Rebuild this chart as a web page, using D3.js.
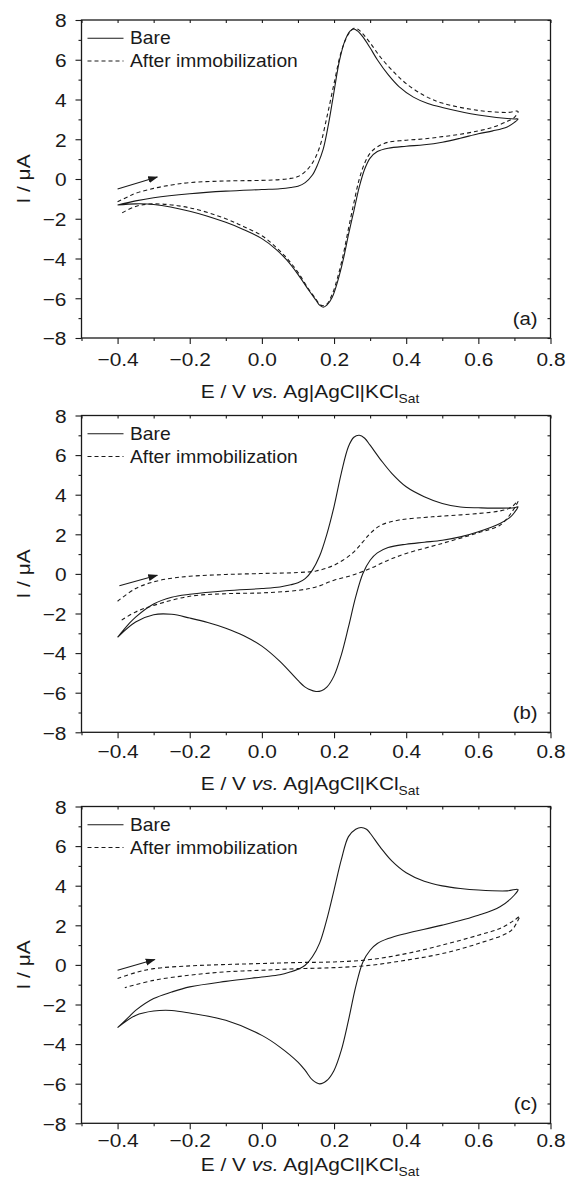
<!DOCTYPE html>
<html>
<head>
<meta charset="utf-8">
<script src="https://cdn.jsdelivr.net/npm/d3@7"></script>
<style>
  body { margin: 0; background: #fff; }
  svg { display: block; }
  text { font-family: "Liberation Sans", Arial, Helvetica, sans-serif; fill: #1a1a1a; }
</style>
</head>
<body>
<svg id="svg" width="569" height="1186"></svg>
<script>
// ---- data: [E (V), I (uA)], forward sweep then reverse sweep ----
const bareA = [
  [-0.40,-1.31],[-0.35,-1.10],[-0.30,-0.94],[-0.20,-0.74],[-0.10,-0.61],[0.00,-0.53],[0.05,-0.49],[0.08,-0.43],
  [0.10,-0.36],[0.12,-0.18],[0.14,0.20],[0.155,0.75],[0.17,1.50],[0.185,2.80],[0.20,4.40],[0.215,5.95],
  [0.23,6.95],[0.245,7.45],[0.255,7.55],[0.265,7.45],[0.28,7.15],[0.30,6.60],[0.32,6.00],[0.35,5.25],
  [0.38,4.65],[0.42,4.12],[0.46,3.80],[0.50,3.60],[0.60,3.22],[0.70,3.02],[0.71,3.02],
  [0.70,2.85],[0.68,2.62],[0.64,2.42],[0.60,2.28],[0.55,2.05],[0.50,1.85],[0.45,1.72],[0.40,1.65],
  [0.35,1.55],[0.32,1.38],[0.30,1.05],[0.285,0.50],[0.27,-0.40],[0.255,-1.60],[0.24,-2.80],[0.225,-4.10],
  [0.21,-5.15],[0.195,-5.95],[0.18,-6.35],[0.17,-6.45],[0.16,-6.35],[0.15,-6.10],[0.13,-5.60],[0.10,-4.80],
  [0.07,-4.10],[0.04,-3.55],[0.00,-3.00],[-0.05,-2.55],[-0.10,-2.18],[-0.20,-1.62],[-0.30,-1.28],
  [-0.35,-1.25],[-0.40,-1.31]
];
const immA = [
  [-0.40,-1.15],[-0.37,-0.88],[-0.35,-0.72],[-0.30,-0.47],[-0.25,-0.30],[-0.20,-0.18],[-0.10,-0.10],
  [0.00,-0.07],[0.05,-0.03],[0.08,0.03],[0.10,0.12],[0.12,0.37],[0.14,0.80],[0.16,1.60],[0.18,3.10],
  [0.20,4.80],[0.22,6.40],[0.24,7.30],[0.255,7.58],[0.265,7.55],[0.28,7.30],[0.30,6.85],[0.33,6.10],
  [0.37,5.30],[0.40,4.80],[0.45,4.20],[0.50,3.82],[0.60,3.45],[0.68,3.35],[0.71,3.40],
  [0.70,3.10],[0.68,2.90],[0.64,2.60],[0.60,2.42],[0.55,2.25],[0.50,2.13],[0.45,2.02],[0.40,1.95],
  [0.35,1.85],[0.32,1.62],[0.30,1.30],[0.285,0.80],[0.27,0.00],[0.255,-1.20],[0.24,-2.50],[0.225,-3.85],
  [0.21,-4.95],[0.195,-5.80],[0.18,-6.30],[0.17,-6.38],[0.16,-6.30],[0.15,-6.05],[0.13,-5.55],[0.10,-4.70],
  [0.07,-4.00],[0.04,-3.45],[0.00,-2.85],[-0.05,-2.40],[-0.10,-2.00],[-0.20,-1.45],[-0.30,-1.25],
  [-0.35,-1.38],[-0.39,-1.73]
];
const bareB = [
  [-0.40,-3.20],[-0.37,-2.55],[-0.35,-2.18],[-0.30,-1.52],[-0.25,-1.18],[-0.20,-1.03],[-0.10,-0.85],
  [0.00,-0.74],[0.05,-0.66],[0.08,-0.55],[0.10,-0.45],[0.12,-0.24],[0.14,0.19],[0.16,0.90],[0.18,2.00],
  [0.20,3.40],[0.22,5.08],[0.24,6.43],[0.255,6.90],[0.27,7.00],[0.285,6.85],[0.30,6.50],[0.33,5.75],
  [0.36,5.08],[0.40,4.40],[0.45,3.90],[0.50,3.56],[0.55,3.38],[0.60,3.34],[0.70,3.34],[0.71,3.39],
  [0.70,3.10],[0.69,2.89],[0.66,2.55],[0.60,2.13],[0.55,1.87],[0.50,1.70],[0.45,1.60],[0.40,1.50],
  [0.35,1.33],[0.32,1.06],[0.30,0.69],[0.28,0.02],[0.26,-1.16],[0.24,-2.68],[0.22,-4.10],[0.20,-5.15],
  [0.18,-5.72],[0.165,-5.90],[0.15,-5.94],[0.13,-5.82],[0.12,-5.72],[0.10,-5.38],[0.05,-4.42],[0.00,-3.65],
  [-0.05,-3.12],[-0.10,-2.74],[-0.15,-2.45],[-0.20,-2.23],[-0.25,-2.04],[-0.30,-2.06],[-0.35,-2.43],[-0.40,-3.20]
];
const immB = [
  [-0.40,-1.38],[-0.35,-0.74],[-0.30,-0.40],[-0.25,-0.22],[-0.20,-0.12],[-0.10,-0.03],[0.00,0.02],
  [0.10,0.07],[0.15,0.15],[0.20,0.44],[0.25,1.03],[0.28,1.62],[0.30,2.04],[0.33,2.46],[0.38,2.72],
  [0.45,2.85],[0.50,2.92],[0.60,3.05],[0.66,3.18],[0.69,3.35],[0.71,3.68],
  [0.69,3.05],[0.66,2.46],[0.60,2.08],[0.50,1.54],[0.40,1.03],[0.35,0.69],[0.30,0.27],[0.25,-0.07],
  [0.20,-0.32],[0.15,-0.66],[0.10,-0.83],[0.00,-0.96],[-0.10,-1.00],[-0.20,-1.13],[-0.30,-1.59],
  [-0.35,-1.92],[-0.39,-2.35]
];
const bareC = [
  [-0.40,-3.17],[-0.37,-2.65],[-0.35,-2.30],[-0.30,-1.70],[-0.25,-1.37],[-0.20,-1.11],[-0.10,-0.83],
  [0.00,-0.61],[0.05,-0.50],[0.08,-0.35],[0.10,-0.22],[0.12,-0.02],[0.14,0.41],[0.16,1.10],[0.18,2.30],
  [0.20,3.78],[0.22,5.30],[0.24,6.48],[0.26,6.85],[0.275,6.94],[0.29,6.85],[0.30,6.65],[0.33,5.90],
  [0.36,5.25],[0.40,4.65],[0.45,4.22],[0.50,3.99],[0.55,3.86],[0.60,3.78],[0.68,3.74],[0.71,3.81],
  [0.70,3.53],[0.66,2.94],[0.60,2.51],[0.50,2.01],[0.40,1.59],[0.35,1.33],[0.32,1.08],[0.30,0.74],
  [0.28,0.15],[0.26,-1.11],[0.24,-2.80],[0.22,-4.32],[0.20,-5.33],[0.18,-5.84],[0.16,-6.01],[0.14,-5.81],
  [0.12,-5.33],[0.10,-4.91],[0.05,-4.15],[0.00,-3.56],[-0.10,-2.80],[-0.20,-2.43],[-0.25,-2.30],
  [-0.30,-2.33],[-0.35,-2.55],[-0.40,-3.17]
];
const immC = [
  [-0.40,-0.69],[-0.35,-0.39],[-0.30,-0.19],[-0.20,-0.05],[-0.10,0.02],[0.00,0.07],[0.10,0.12],
  [0.20,0.15],[0.30,0.27],[0.40,0.57],[0.50,1.00],[0.60,1.50],[0.66,1.84],[0.70,2.26],[0.715,2.46],
  [0.71,2.26],[0.69,1.72],[0.60,1.08],[0.50,0.57],[0.40,0.24],[0.30,-0.02],[0.20,-0.14],[0.10,-0.19],
  [0.00,-0.27],[-0.10,-0.35],[-0.20,-0.52],[-0.30,-0.78],[-0.38,-1.15]
];
// scan direction arrows: [start, end]
const arrowA = [[-0.40,-0.50],[-0.29,0.10]];
const arrowB = [[-0.395,-0.60],[-0.29,-0.07]];
const arrowC = [[-0.40,-0.27],[-0.297,0.27]];

const xMajor = [-0.4,-0.2,0.0,0.2,0.4,0.6,0.8];
const xMinor = [-0.5,-0.3,-0.1,0.1,0.3,0.5,0.7];
const yMajor = [-8,-6,-4,-2,0,2,4,6,8];
const yMinor = [-7,-5,-3,-1,1,3,5,7];
const seriesNames = ["Bare", "After immobilization"];
const panelLabels = ["(a)", "(b)", "(c)"];

const svg = d3.select("#svg");
const SX = 1.1; // the figure's lettering is slightly wide

const panels = [
  { top: 20,    bottom: 338,    tickDy: 28,   titleDy: 60, bare: bareA, imm: immA, arrow: arrowA },
  { top: 415.5, bottom: 732.3,  tickDy: 25.5, titleDy: 58, bare: bareB, imm: immB, arrow: arrowB },
  { top: 806.5, bottom: 1123.3, tickDy: 23.5, titleDy: 48, bare: bareC, imm: immC, arrow: arrowC }
];
const left = 81.5, right = 550.5;

svg.append("defs").append("marker")
  .attr("id", "head")
  .attr("viewBox", "0 0 10 10")
  .attr("refX", 9).attr("refY", 5)
  .attr("markerWidth", 10).attr("markerHeight", 10)
  .attr("markerUnits", "userSpaceOnUse")
  .attr("orient", "auto")
  .append("path")
  .attr("d", "M0,1.5 L10,5 L0,8.5 Z")
  .attr("fill", "#1a1a1a");

function styleAxis(g) {
  g.select(".domain").remove();
  g.selectAll("line").attr("stroke", "#1a1a1a").attr("stroke-width", 1.1);
}

panels.forEach((p, i) => {
  const x = d3.scaleLinear().domain([-0.5, 0.8]).range([left, right]);
  const y = d3.scaleLinear().domain([-8, 8]).range([p.bottom, p.top]);
  const g = svg.append("g");

  // outer ticks on left & bottom
  g.append("g").attr("transform", `translate(${left},0)`)
    .call(d3.axisLeft(y).tickValues(yMinor).tickSize(3).tickFormat(""))
    .call(styleAxis);
  g.append("g").attr("transform", `translate(${left},0)`)
    .call(d3.axisLeft(y).tickValues(yMajor).tickSize(6).tickFormat(d3.format("d")))
    .call(styleAxis)
    .call(a => a.selectAll("text")
      .attr("x", -15 / SX).attr("dy", "0.36em")
      .attr("transform", `scale(${SX},1)`)
      .style("font-size", "19px"));
  g.append("g").attr("transform", `translate(0,${p.bottom})`)
    .call(d3.axisBottom(x).tickValues(xMinor).tickSize(3).tickFormat(""))
    .call(styleAxis);
  g.append("g").attr("transform", `translate(0,${p.bottom})`)
    .call(d3.axisBottom(x).tickValues(xMajor).tickSize(6).tickFormat(d3.format(".1f")))
    .call(styleAxis)
    .call(a => a.selectAll("text")
      .attr("y", p.tickDy).attr("dy", null)
      .attr("transform", `scale(${SX},1)`)
      .style("font-size", "19px"));

  // mirrored inner ticks on top & right
  g.append("g").attr("transform", `translate(0,${p.top})`)
    .call(d3.axisTop(x).tickValues(d3.merge([xMajor, xMinor])).tickSize(-3).tickFormat(""))
    .call(styleAxis);
  g.append("g").attr("transform", `translate(${right},0)`)
    .call(d3.axisRight(y).tickValues(d3.merge([yMajor, yMinor])).tickSize(-3).tickFormat(""))
    .call(styleAxis);

  g.append("rect")
    .attr("x", left).attr("y", p.top)
    .attr("width", right - left).attr("height", p.bottom - p.top)
    .attr("fill", "none").attr("stroke", "#1a1a1a").attr("stroke-width", 1.3);

  const line = d3.line().x(d => x(d[0])).y(d => y(d[1])).curve(d3.curveCatmullRom.alpha(0.5));

  g.append("path").datum(p.bare).attr("d", line)
    .attr("fill", "none").attr("stroke", "#1a1a1a").attr("stroke-width", 1.1);
  g.append("path").datum(p.imm).attr("d", line)
    .attr("fill", "none").attr("stroke", "#1a1a1a").attr("stroke-width", 1.1)
    .attr("stroke-dasharray", "4,3");

  // arrow
  g.append("line")
    .attr("x1", x(p.arrow[0][0])).attr("y1", y(p.arrow[0][1]))
    .attr("x2", x(p.arrow[1][0])).attr("y2", y(p.arrow[1][1]))
    .attr("stroke", "#1a1a1a").attr("stroke-width", 1.1)
    .attr("marker-end", "url(#head)");

  // legend
  seriesNames.forEach((name, k) => {
    const ly = p.top + 18.3 + k * 22.7;
    g.append("line")
      .attr("x1", left + 6).attr("x2", left + 42)
      .attr("y1", ly).attr("y2", ly)
      .attr("stroke", "#1a1a1a").attr("stroke-width", 1.1)
      .attr("stroke-dasharray", k === 0 ? null : "4,3");
    g.append("text")
      .attr("transform", `translate(${left + 48.5},${ly + 6}) scale(${SX},1)`)
      .style("font-size", "17.5px")
      .text(name);
  });

  // panel label
  g.append("text")
    .attr("transform", `translate(${right - 13},${p.bottom - 13}) scale(${SX},1)`)
    .attr("text-anchor", "end")
    .style("font-size", "18.5px")
    .text(panelLabels[i]);

  // axis titles
  const xt = g.append("text")
    .attr("transform", `translate(310,${p.bottom + p.titleDy}) scale(${SX},1)`)
    .attr("text-anchor", "middle")
    .style("font-size", "19px");
  xt.append("tspan").text("E / V ");
  xt.append("tspan").style("font-style", "italic").text("vs.");
  xt.append("tspan").text(" Ag|AgCl|KCl");
  xt.append("tspan").attr("dy", 5).style("font-size", "12.5px").text("Sat");

  g.append("text")
    .attr("transform", `translate(30,${(p.top + p.bottom) / 2}) rotate(-90) scale(${SX},1)`)
    .attr("text-anchor", "middle")
    .style("font-size", "19px")
    .text("I / μA");
});
</script>
</body>
</html>
